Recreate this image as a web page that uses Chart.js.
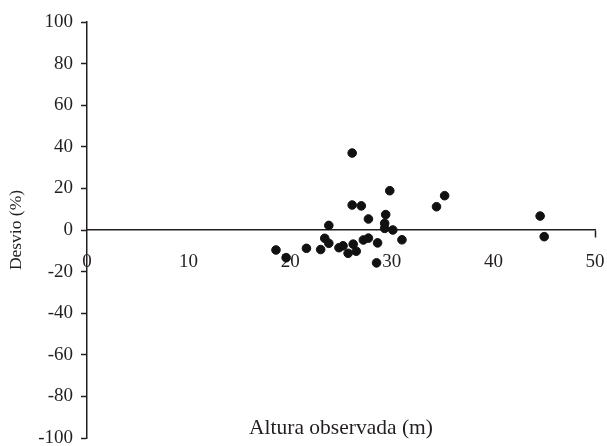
<!DOCTYPE html>
<html>
<head>
<meta charset="utf-8">
<script src="https://cdn.jsdelivr.net/npm/chart.js@4/dist/chart.umd.min.js"></script>
<style>
    body { margin: 0; background: #fff; }
</style>
</head>
<body>
<canvas id="chart" width="607" height="446"></canvas>
<script>
// observed height (m) and deviation (%)
const alturas = [18.6, 19.6, 21.6, 23.0, 23.4, 23.8, 23.8, 24.8, 25.2, 25.7,
    26.1, 26.1, 26.2, 26.5, 27.0, 27.2, 27.7, 27.7, 28.5, 28.6,
    29.3, 29.3, 29.4, 29.8, 30.1, 31.0, 34.4, 35.2, 44.6, 45.0];
const desvios = [-9.6, -13.3, -8.8, -9.4, -4.0, -6.4, 2.2, -8.5, -7.6, -11.2,
    37.0, 12.0, -6.8, -10.2, 11.6, -4.8, -3.9, 5.3, -15.8, -6.2,
    0.8, 3.2, 7.4, 18.9, 0.0, -4.7, 11.2, 16.5, 6.7, -3.2];
const xTicks = [0, 10, 20, 30, 40, 50];
const yTicks = [-100, -80, -60, -40, -20, 0, 20, 40, 60, 80, 100];
const xTitle = 'Altura observada (m)';
const yTitle = 'Desvio (%)';

const ink = '#231f20';
const serif = "'Liberation Serif', 'Times New Roman', serif";

const points = alturas.map((x, i) => ({ x: x, y: desvios[i] }));

// x title sits inside the plot area, under the points
const bottomTitle = {
    id: 'bottomTitle',
    afterDraw(chart) {
        const ctx = chart.ctx;
        const area = chart.chartArea;
        ctx.save();
        ctx.font = '21.5px ' + serif;
        ctx.fillStyle = ink;
        ctx.textAlign = 'center';
        ctx.textBaseline = 'alphabetic';
        ctx.fillText(xTitle, (area.left + area.right) / 2, 434);
        ctx.restore();
    }
};

// keep label overflow from shrinking the plot area
function noOverflow(scale) {
    scale.paddingTop = 0;
    scale.paddingBottom = 0;
    scale.paddingLeft = 0;
    scale.paddingRight = 0;
}

new Chart(document.getElementById('chart').getContext('2d'), {
    type: 'scatter',
    data: {
        datasets: [{
            data: points,
            backgroundColor: '#111',
            borderColor: '#111',
            pointRadius: 4.3,
            pointHoverRadius: 4.3
        }]
    },
    options: {
        responsive: false,
        animation: false,
        layout: { padding: { top: 22, right: 12, bottom: 8, left: 0 } },
        plugins: {
            legend: { display: false },
            tooltip: { enabled: false }
        },
        scales: {
            x: {
                type: 'linear',
                position: { y: 0 },
                min: 0,
                max: 50,
                afterBuildTicks: scale => { scale.ticks = xTicks.map(v => ({ value: v })); },
                afterFit: noOverflow,
                border: { display: true, color: ink, width: 1.5 },
                grid: {
                    drawOnChartArea: false,
                    drawTicks: true,
                    tickLength: 7,
                    tickWidth: 1.5,
                    tickColor: c => (c.tick && c.tick.value === 50) ? ink : 'rgba(0,0,0,0)'
                },
                ticks: {
                    color: ink,
                    padding: 14,
                    maxRotation: 0,
                    font: { family: serif, size: 19 }
                }
            },
            y: {
                type: 'linear',
                position: 'left',
                min: -100,
                max: 100,
                afterBuildTicks: scale => { scale.ticks = yTicks.map(v => ({ value: v })); },
                afterFit: scale => { scale.width = 87; noOverflow(scale); },
                border: { display: true, color: ink, width: 1.5 },
                grid: {
                    drawOnChartArea: false,
                    drawTicks: true,
                    tickLength: 6,
                    tickWidth: 1.5,
                    tickColor: ink
                },
                ticks: {
                    color: ink,
                    padding: 8,
                    font: { family: serif, size: 19 }
                },
                title: {
                    display: true,
                    text: yTitle,
                    color: ink,
                    padding: { top: 6, bottom: 4 },
                    font: { family: serif, size: 17.5 }
                }
            }
        }
    },
    plugins: [bottomTitle]
});
</script>
</body>
</html>
